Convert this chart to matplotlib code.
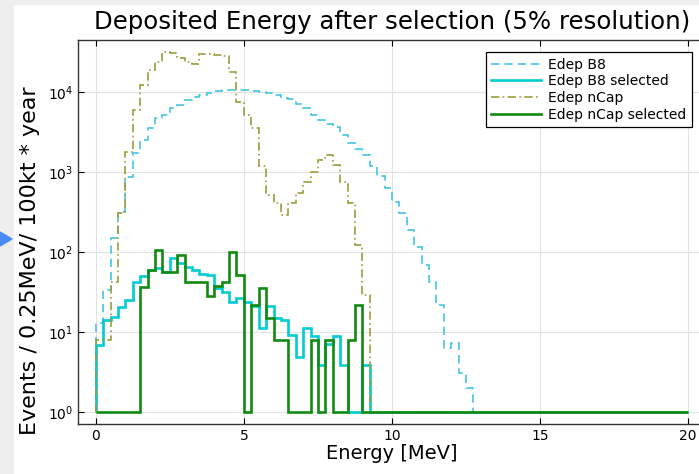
import numpy as np
import matplotlib.pyplot as plt
from matplotlib.patches import Rectangle, Polygon
from matplotlib.ticker import LogLocator, NullLocator

# bin edges: 0..20 MeV in 0.25 MeV steps
edges = np.arange(0, 20.0001, 0.25)

# log10 of bin contents (0 -> plotted floor of 1)
b8_log = [1.11, 1.52, 2.17, 2.50, 2.94, 3.24, 3.40, 3.55, 3.67, 3.71,
          3.80, 3.84, 3.90, 3.94, 3.96, 3.99, 4.01, 4.02, 4.02, 4.03,
          4.02, 4.01, 4.00, 3.99, 3.96, 3.93, 3.91, 3.85, 3.80, 3.71,
          3.65, 3.60, 3.56, 3.46, 3.36, 3.29, 3.21, 3.08, 2.95, 2.80,
          2.63, 2.49, 2.28, 2.06, 1.84, 1.63, 1.34, 0.80, 0.86, 0.49,
          0.30] + [0] * 29
b8_sel_log = [0.84, 1.15, 1.19, 1.31, 1.40, 1.63, 1.70, 1.78, 1.80, 1.75,
              1.92, 1.86, 1.81, 1.78, 1.72, 1.71, 1.55, 1.50, 1.38, 1.43,
              1.38, 1.33, 1.05, 1.32, 1.17, 1.15, 0.96, 0.69, 1.05, 0.95,
              0.59, 0.85, 0.95, 0.59, 0, 0, 0.59] + [0] * 43
ncap_log = [0.90, 0.90, 1.63, 2.49, 3.25, 3.78, 4.09, 4.27, 4.37, 4.50,
            4.49, 4.42, 4.37, 4.35, 4.47, 4.48, 4.46, 4.45, 4.25, 3.87,
            3.71, 3.55, 3.07, 2.71, 2.61, 2.46, 2.61, 2.74, 2.87, 3.00,
            3.15, 3.21, 3.09, 2.87, 2.61, 2.09, 1.46] + [0] * 43
ncap_sel_log = [0, 0, 0, 0, 0, 0, 1.56, 1.78, 2.03, 1.75,
                1.75, 1.96, 1.63, 1.63, 1.63, 1.45, 1.57, 1.63, 2.00, 1.71,
                0, 1.34, 1.55, 1.17, 0.90, 0.90, 0, 0, 0, 0.90,
                0, 0.90, 0, 0, 0.90, 1.34] + [0] * 44

b8 = 10 ** np.array(b8_log)
b8_sel = 10 ** np.array(b8_sel_log)
ncap = 10 ** np.array(ncap_log)
ncap_sel = 10 ** np.array(ncap_sel_log)

fig = plt.figure(figsize=(6.99, 4.74), dpi=100)
# notebook margin seen at the left/top of the screenshot
fig.patches.append(Rectangle((0, 0), 13 / 699, 1, transform=fig.transFigure,
                             color='#eeeeee', zorder=-10))
fig.patches.append(Rectangle((0, 1 - 4 / 474), 1, 4 / 474, transform=fig.transFigure,
                             color='#eeeeee', zorder=-10))
fig.patches.append(Polygon([(0, 1 - 232 / 474), (12 / 699, 1 - 239 / 474), (0, 1 - 246 / 474)],
                           closed=True, transform=fig.transFigure, color='#4a8af4'))

ax = fig.add_axes([78 / 699, 1 - 424 / 474, 628 / 699, 384 / 474])

ax.stairs(b8, edges, baseline=1, color='#45c5e5', lw=1.2, ls=(0, (5, 3)), label='Edep B8')
ax.stairs(b8_sel, edges, baseline=1, color='#00ccd4', lw=1.9, label='Edep B8 selected')
ax.stairs(ncap, edges, baseline=1, color='#9c9c3c', lw=1.2, ls=(0, (5, 2, 1, 2)), label='Edep nCap')
ax.stairs(ncap_sel, edges, baseline=1, color='#108a10', lw=1.9, label='Edep nCap selected')

ax.set_yscale('log')
ax.set_xlim(-0.6, 20.6)
ax.set_ylim(10 ** -0.15, 10 ** 4.65)
ax.set_xticks([0, 5, 10, 15, 20])
ax.yaxis.set_major_locator(LogLocator(base=10, numticks=10))
ax.yaxis.set_minor_locator(NullLocator())
ax.grid(True, color='#e2e2e2', lw=0.8)
ax.set_axisbelow(True)
ax.tick_params(direction='in', length=4, top=True, right=True, labelsize=10)
for s in ax.spines.values():
    s.set_color('#333333')
    s.set_linewidth(1.0)

ax.set_title('Deposited Energy after selection (5% resolution)', fontsize=17.6, pad=8)
ax.set_xlabel('Energy [MeV]', fontsize=14, labelpad=1)
ax.set_ylabel('Events / 0.25MeV/ 100kt * year', fontsize=16)
ax.yaxis.set_label_coords(-0.06, 0.425)

leg = ax.legend(loc='upper right', bbox_to_anchor=((692 - 78) / 628, 1 - 12 / 384),
                borderaxespad=0, fontsize=10, frameon=True, fancybox=False, framealpha=1,
                edgecolor='black', handlelength=3.6, handletextpad=0.5,
                labelspacing=0.2, borderpad=0.4)
leg.get_frame().set_linewidth(0.9)

fig.savefig('out.png', dpi=100)
